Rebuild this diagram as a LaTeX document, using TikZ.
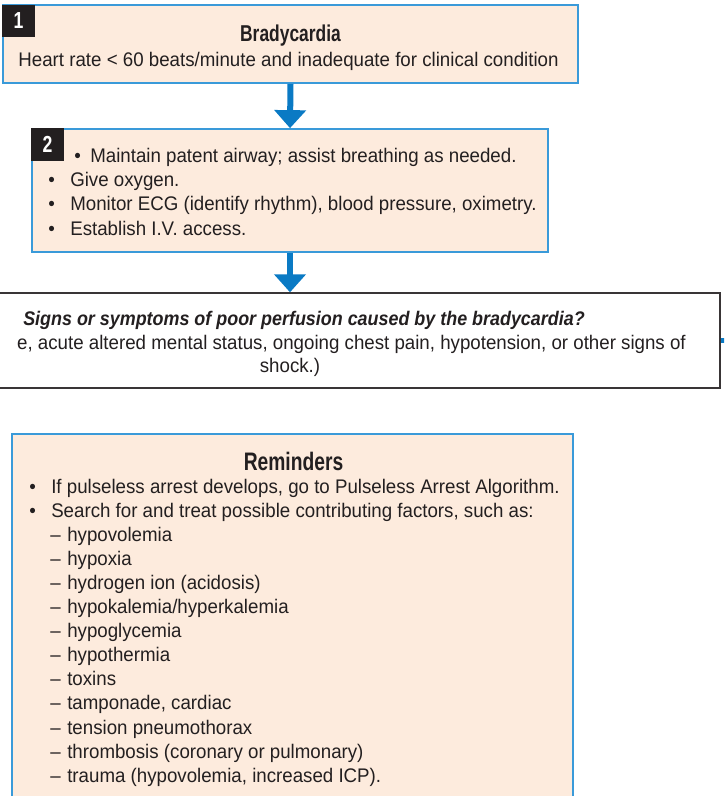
\documentclass[tikz,border=0pt]{standalone}
\usepackage{fontspec}
\setmainfont{Liberation Sans}[FakeStretch=0.95,BoldFeatures={FakeStretch=0.76},BoldItalicFeatures={FakeStretch=0.91}]
\usetikzlibrary{arrows.meta}
\definecolor{boxblue}{HTML}{3A9AD9}
\definecolor{boxfill}{HTML}{FDEBDD}
\definecolor{arrowblue}{HTML}{0A7AC4}
\definecolor{inkblack}{HTML}{231F20}
\newcommand{\bul}{\makebox[0.55cm][l]{\textbullet}}
\newcommand{\dsh}{\makebox[0.425cm][l]{–}}
\begin{document}
\begin{tikzpicture}[x=0.025cm,y=-0.025cm,
    every node/.style={inner sep=0pt,text=inkblack,font=\fontsize{14}{17.07}\selectfont},
    stepbox/.style={draw=boxblue,fill=boxfill,line width=1.2pt},
    askbox/.style={draw=inkblack!90,fill=white,line width=1pt},
    numtag/.style={fill=inkblack,text=white,font=\fontsize{16.5}{16.5}\selectfont\bfseries,
        minimum width=0.825cm,minimum height=0.8cm},
    headline/.style={font=\fontsize{16.3}{18}\selectfont\bfseries},
    flow/.style={draw=arrowblue,line width=0.15cm,-{Triangle[width=0.775cm,length=0.45cm]}}]
    \useasboundingbox (0,0) rectangle (724,796);
    \clip (0,0) rectangle (724,796);
    % boxes
    \node[stepbox,minimum width=14.375cm,minimum height=1.95cm] (brady) at (290.5,44) {};
    \node[stepbox,minimum width=12.9cm,minimum height=3.075cm] (steps) at (290,190.5) {};
    \node[askbox,minimum width=21cm,minimum height=2.375cm] (ask) at (300,340.5) {};
    \node[stepbox,minimum width=14.025cm,minimum height=9.9cm] (remind) at (292.5,632) {};
    \node[numtag] (tag1) at (18.5,21) {1};
    \node[numtag] (tag2) at (47.5,144.5) {2};
    % texts (multi-line nodes sit on their last line)
    \node[headline,anchor=base] (bradytitle) at (290.5,41.5) {Bradycardia};
    \node[anchor=base] (bradytext) at (288.5,66.5) {Heart rate < 60 beats/minute and inadequate for clinical condition};
    \node[anchor=base west,align=left] (stepstext) at (48,235) {\hspace*{0.65cm}\makebox[0.4cm][l]{\textbullet}Maintain patent airway; assist breathing as needed.\\
        \bul Give oxygen.\\
        \bul Monitor ECG (identify rhythm), blood pressure, oximetry.\\
        \bul Establish I.V. access.};
    \node[anchor=base,font=\fontsize{14}{17.07}\selectfont\bfseries\itshape] (asktitle) at (304,325) {Signs or symptoms of poor perfusion caused by the bradycardia?};
    \node[anchor=base east] (askhint) at (686,349) {e, acute altered mental status, ongoing chest pain, hypotension, or other signs of};
    \node[anchor=base] (askend) at (290,372) {shock.)};
    \node[headline,anchor=base,font=\fontsize{18}{20}\selectfont\bfseries] (remindtitle) at (293.5,470) {Reminders};
    \node[anchor=base west,align=left] (remindtext) at (29,782) {\bul If pulseless arrest develops, go to Pulseless Arrest Algorithm.\\
        \bul Search for and treat possible contributing factors, such as:\\
        \hspace*{0.525cm}\dsh hypovolemia\\
        \hspace*{0.525cm}\dsh hypoxia\\
        \hspace*{0.525cm}\dsh hydrogen ion (acidosis)\\
        \hspace*{0.525cm}\dsh hypokalemia/hyperkalemia\\
        \hspace*{0.525cm}\dsh hypoglycemia\\
        \hspace*{0.525cm}\dsh hypothermia\\
        \hspace*{0.525cm}\dsh toxins\\
        \hspace*{0.525cm}\dsh tamponade, cardiac\\
        \hspace*{0.525cm}\dsh tension pneumothorax\\
        \hspace*{0.525cm}\dsh thrombosis (coronary or pulmonary)\\
        \hspace*{0.525cm}\dsh trauma (hypovolemia, increased ICP).};
    % arrows
    \coordinate (stubend) at (730,340.5);
    \draw[flow] (brady.south) -- (steps.north);
    \draw[flow] (steps.south) -- (steps.south |- ask.north);
    \draw[draw=arrowblue,line width=0.12cm] (ask.east) -- (stubend);
\end{tikzpicture}
\end{document}
